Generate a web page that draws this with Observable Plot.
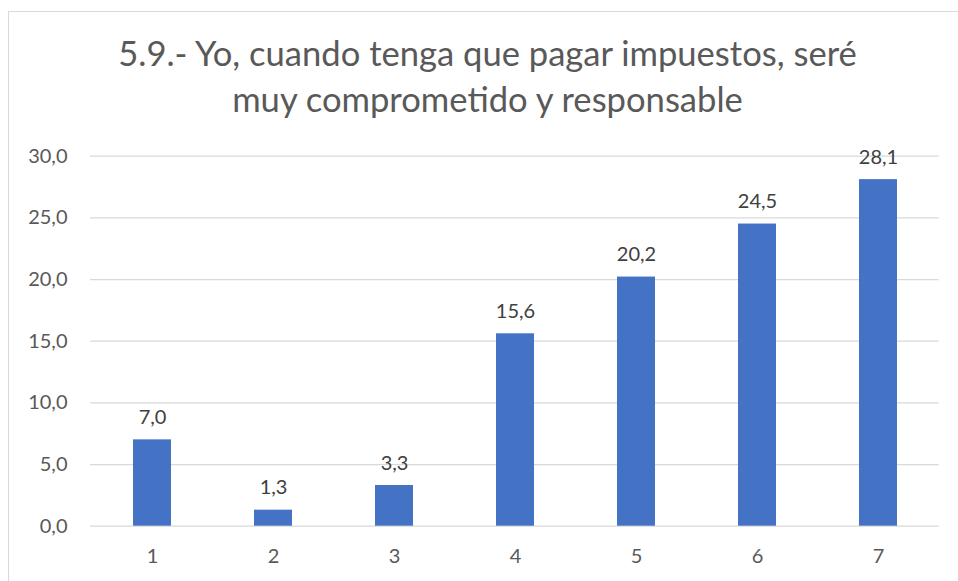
<!DOCTYPE html>
<html>
<head>
<meta charset="utf-8">
<script src="https://cdn.jsdelivr.net/npm/d3@7"></script>
<script src="https://cdn.jsdelivr.net/npm/@observablehq/plot@0.6"></script>
<style>
  html, body { margin: 0; padding: 0; background: #fff; }
  #wrap { position: relative; width: 958px; height: 581px; overflow: hidden; background: #fff; font-family: Lato, "Open Sans", sans-serif; }
  #frame { position: absolute; left: 8px; top: 11px; width: 1000px; height: 700px; border: 1.3px solid #d9d9d9; box-sizing: border-box; pointer-events: none; z-index: 2; }
  #title { position: absolute; left: 0; top: 30px; width: 975px; text-align: center; font-size: 34.6px; line-height: 46px; color: #595959; z-index: 1; }
  #chart { position: absolute; left: 0; top: 126px; }
</style>
</head>
<body>
<div id="wrap">
  <div id="frame"></div>
  <div id="title">5.9.- Yo, cuando tenga que pagar impuestos, seré<br>muy comprometido y responsable</div>
  <div id="chart"></div>
</div>
<script>
const categories = ["1", "2", "3", "4", "5", "6", "7"];
const values = [7.0, 1.3, 3.3, 15.6, 20.2, 24.5, 28.1];
const yTicks = [0, 5, 10, 15, 20, 25, 30];

const data = categories.map((c, i) => ({cat: c, value: values[i]}));
const fmt = d => d.toFixed(1).replace(".", ",");

const plot = Plot.plot({
  width: 958,
  height: 455,
  marginLeft: 90,
  marginRight: 19.3,
  marginTop: 29.7,
  marginBottom: 55.3,
  style: {fontFamily: "Lato, 'Open Sans', sans-serif", fontSize: "20px", background: "transparent", overflow: "visible"},
  x: {domain: categories, paddingInner: 0.69, paddingOuter: 0.345, label: null},
  y: {domain: [0, 30], label: null},
  marks: [
    Plot.ruleY(yTicks, {stroke: "#d9d9d9", strokeWidth: 1.3}),
    Plot.barY(data, {x: "cat", y: "value", fill: "#4472C4"}),
    Plot.text(data, {x: "cat", y: "value", text: d => fmt(d.value), lineAnchor: "bottom", dy: -16, fill: "#404040", fontSize: 20}),
    Plot.axisY(yTicks, {tickSize: 0, tickPadding: 23, tickFormat: fmt, fill: "#595959", fontSize: 20, label: null}),
    Plot.axisX({tickSize: 0, tickPadding: 23, fill: "#595959", fontSize: 20, label: null})
  ]
});
document.getElementById("chart").appendChild(plot);
</script>
</body>
</html>
